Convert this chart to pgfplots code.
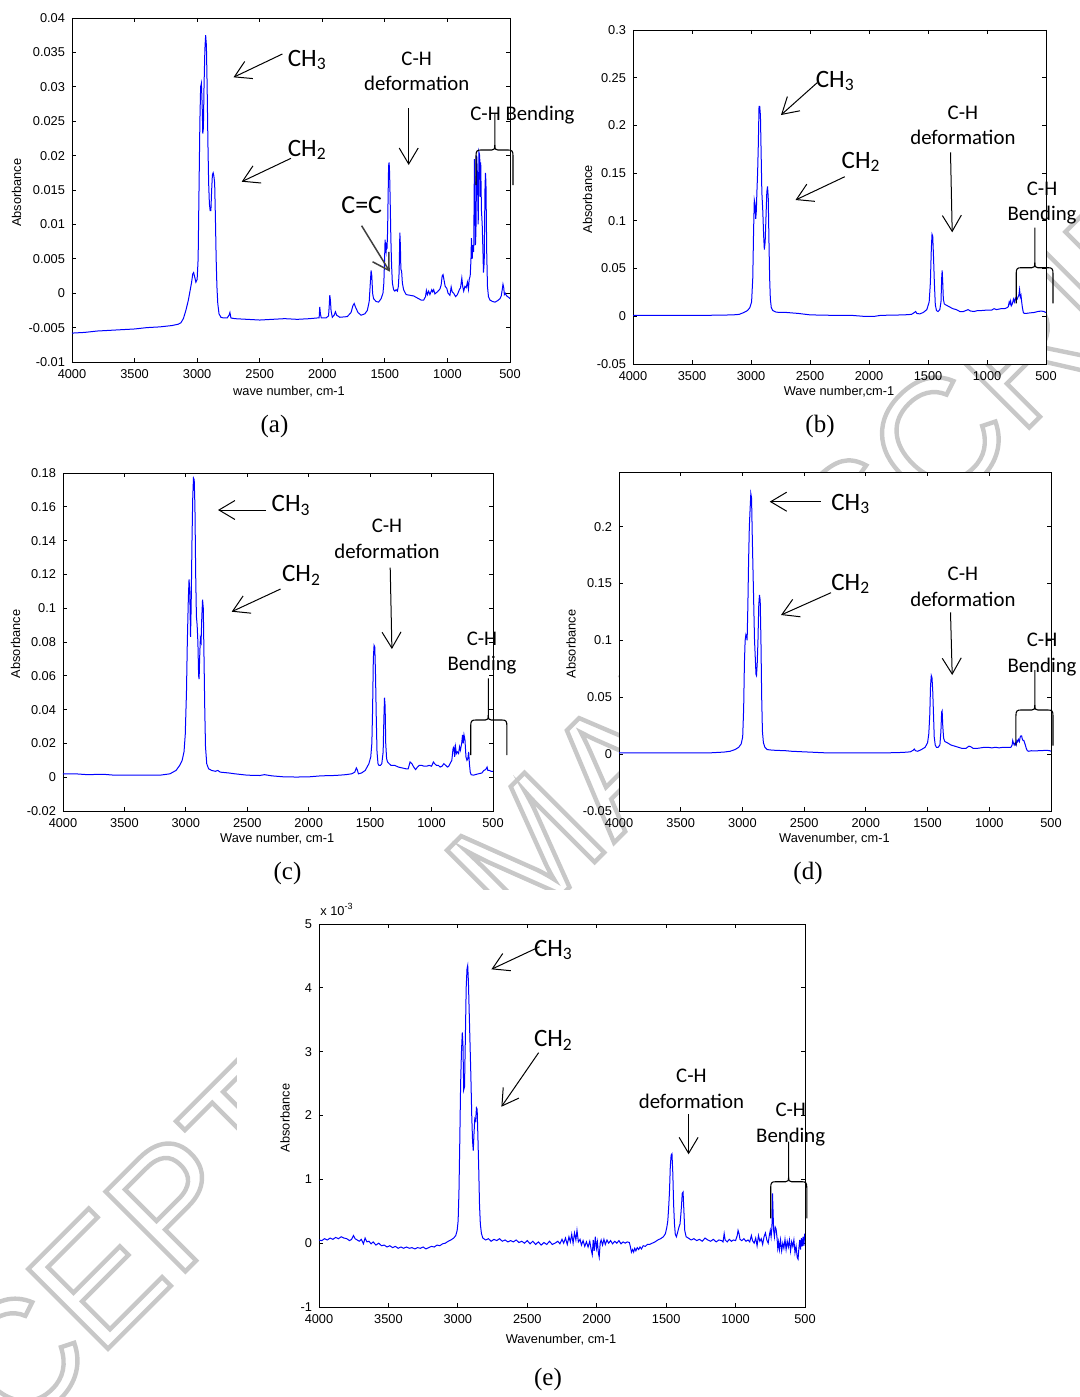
\documentclass[border=0pt]{standalone}
\usepackage{pgfplots}
\pgfplotsset{compat=1.18}
\usepackage{fontspec}
\setmainfont{Liberation Sans}
\newfontfamily\calfont{Carlito}
\newfontfamily\serfont{Liberation Serif}
\usetikzlibrary{arrows.meta}
\definecolor{mblue}{RGB}{0,0,255}
\definecolor{wmgray}{RGB}{200,200,200}
\newcommand{\tk}{\fontsize{6.4}{7.5}\selectfont}
\newcommand{\annbig}{\calfont\fontsize{12.5}{14}\selectfont}
\newcommand{\annmid}{\calfont\fontsize{10.4}{12}\selectfont}
\newcommand{\capf}{\serfont\fontsize{12.5}{14}\selectfont}
\pgfplotsset{ftir/.style={scale only axis, anchor=north west, x dir=reverse,
  xmin=500, xmax=4000,
  xtick={500,1000,1500,2000,2500,3000,3500,4000},
  xticklabels={500,1000,1500,2000,2500,3000,3500,4000},
  tick align=inside, major tick length=2.2pt,
  ticklabel style={font=\tk},
  axis line style={line width=0.4pt},
  axis background/.style={fill=white},
  every tick/.style={black, line width=0.4pt},
  scaled y ticks=false, clip=true}}
\tikzset{ann/.style={-{Straight Barb[length=8pt,width=9.5pt]}, line width=0.5pt},
  cc/.style={-{Straight Barb[length=8pt,width=9.5pt]}, line width=0.75pt, black!75}}
\newcommand{\cbrace}[6]{%
\draw[line width=0.55pt] ({#1},{#4}) -- ({#1},{#3+6}) .. controls ({#1},{#3+1}) and ({#1+1},{#3}) .. ({#1+5},{#3}) -- ({#5-3},{#3}) .. controls ({#5-0.5},{#3}) and ({#5},{#3-1}) .. ({#5},{#3-5}) -- ({#5},{#6});
\draw[line width=0.55pt] ({#2},{#4}) -- ({#2},{#3+6}) .. controls ({#2},{#3+1}) and ({#2-1},{#3}) .. ({#2-5},{#3}) -- ({#5+3},{#3}) .. controls ({#5+0.5},{#3}) and ({#5},{#3-1}) .. ({#5},{#3-5});}
\begin{document}
\begin{tikzpicture}
\useasboundingbox (0,0) rectangle (540pt,-698.5pt);
% watermark (drawn first, hidden by the axes boxes and the panel (e) area)
\begin{scope}[x=0.5pt,y=-0.5pt]
\node[rotate=45, text=wmgray, inner sep=0, font=\fontsize{82}{84}\selectfont] at (529,848)
  {\special{pdf:literal direct 1 Tr 2.2 w}ACCEPTED MANUSCRIPT\special{pdf:literal direct 0 Tr}};
\fill[white] (237,890) rectangle (1080,1397);
\end{scope}
% ---------------- (a)
\begin{axis}[ftir, at={(36pt,-9pt)}, width=219pt, height=172pt,
  ymin=-0.01, ymax=0.04,
  ytick={-0.01,-0.005,0,0.005,0.01,0.015,0.02,0.025,0.03,0.035,0.04},
  yticklabels={-0.01,-0.005,0,0.005,0.01,0.015,0.02,0.025,0.03,0.035,0.04}]
\addplot[mblue, line width=0.5pt] coordinates {
(4000,-0.0058) (3900,-0.0057) (3800,-0.0055) (3700,-0.0054) (3600,-0.0053) (3500,-0.0052) (3400,-0.0050) (3300,-0.0049) (3200,-0.0047) (3150,-0.0045) (3130,-0.0043) (3110,-0.0037) (3090,-0.0025) (3070,-0.0010) (3055,0.0005) (3045,0.0015) (3035,0.0028) (3028,0.0030) (3020,0.0024) (3010,0.0016) (3000,0.0020) (2992,0.0050) (2985,0.0150) (2978,0.0250) (2972,0.0300) (2966,0.0305) (2960,0.0275) (2955,0.0232) (2950,0.0240) (2945,0.0300) (2938,0.0355) (2932,0.0375) (2926,0.0360) (2920,0.0300) (2914,0.0220) (2908,0.0160) (2902,0.0130) (2896,0.0120) (2890,0.0120) (2884,0.0150) (2878,0.0172) (2872,0.0175) (2866,0.0170) (2860,0.0160) (2854,0.0110) (2848,0.0050) (2842,0.0010) (2835,-0.0015) (2825,-0.0030) (2810,-0.0035) (2790,-0.0036) (2760,-0.0036) (2745,-0.0032) (2738,-0.0028) (2730,-0.0036) (2700,-0.0037) (2600,-0.0038) (2500,-0.0039) (2400,-0.0038) (2300,-0.0037) (2200,-0.0038) (2100,-0.0037) (2040,-0.0036) (2025,-0.0036) (2020,-0.0020) (2015,-0.0030) (2008,-0.0036) (1970,-0.0036) (1950,-0.0033) (1945,-0.0020) (1940,-0.0003) (1935,-0.0010) (1930,-0.0025) (1920,-0.0035) (1905,-0.0032) (1895,-0.0027) (1885,-0.0032) (1860,-0.0035) (1800,-0.0034) (1770,-0.0028) (1755,-0.0018) (1745,-0.0015) (1735,-0.0020) (1715,-0.0028) (1690,-0.0032) (1660,-0.0030) (1640,-0.0025) (1625,-0.0012) (1615,0.0018) (1610,0.0033) (1604,0.0025) (1598,0.0000) (1590,-0.0008) (1570,-0.0012) (1550,-0.0013) (1530,-0.0008) (1515,0.0000) (1508,0.0015) (1502,0.0050) (1498,0.0078) (1494,0.0065) (1490,0.0060) (1486,0.0070) (1482,0.0068) (1478,0.0090) (1474,0.0140) (1470,0.0185) (1466,0.0190) (1462,0.0175) (1458,0.0140) (1452,0.0080) (1446,0.0040) (1440,0.0015) (1430,0.0005) (1420,0.0003) (1410,0.0005) (1400,0.0003) (1392,0.0010) (1386,0.0030) (1380,0.0088) (1376,0.0070) (1372,0.0035) (1366,0.0032) (1360,0.0015) (1350,0.0005) (1330,-0.0002) (1300,-0.0003) (1270,-0.0004) (1240,-0.0007) (1210,-0.0010) (1190,-0.0010) (1175,-0.0005) (1168,0.0004) (1160,-0.0002) (1150,0.0003) (1140,-0.0002) (1125,0.0005) (1118,0.0002) (1110,0.0005) (1100,-0.0001) (1080,0.0002) (1060,0.0006) (1050,0.0012) (1042,0.0025) (1035,0.0027) (1028,0.0020) (1018,0.0010) (1005,0.0007) (995,0.0000) (980,-0.0003) (970,0.0009) (962,0.0002) (950,0.0000) (935,-0.0005) (920,-0.0002) (905,0.0005) (895,0.0008) (885,0.0022) (878,0.0010) (870,0.0003) (860,0.0010) (850,0.0008) (840,0.0016) (832,0.0006) (826,0.0020) (818,0.0025) (812,0.0048) (808,0.0080) (802,0.0050) (796,0.0070) (790,0.0060) (784,0.0195) (780,0.0140) (776,0.0070) (772,0.0090) (766,0.0200) (760,0.0170) (754,0.0100) (748,0.0205) (742,0.0200) (738,0.0140) (734,0.0190) (728,0.0120) (722,0.0100) (716,0.0060) (712,0.0030) (706,0.0045) (700,0.0150) (696,0.0175) (692,0.0160) (686,0.0060) (680,0.0010) (672,-0.0005) (660,-0.0010) (640,-0.0012) (620,-0.0013) (600,-0.0011) (580,-0.0008) (570,-0.0004) (562,0.0005) (556,0.0013) (550,0.0008) (545,-0.0002) (538,0.0000) (530,-0.0003) (520,-0.0005) (510,-0.0006) (500,-0.0008)};
\end{axis}
% ---------------- (b)
\begin{axis}[ftir, at={(316.5pt,-15pt)}, width=206.5pt, height=167pt,
  ymin=-0.05, ymax=0.3,
  ytick={-0.05,0,0.05,0.1,0.15,0.2,0.25,0.3},
  yticklabels={-0.05,0,0.05,0.1,0.15,0.2,0.25,0.3}]
\addplot[mblue, line width=0.5pt] coordinates {
(4000,0.0010) (3800,0.0010) (3600,0.0010) (3400,0.0010) (3250,0.0012) (3150,0.0015) (3100,0.0020) (3060,0.0040) (3030,0.0060) (3010,0.0090) (2995,0.0150) (2985,0.0400) (2978,0.0900) (2972,0.1220) (2966,0.1180) (2960,0.1020) (2955,0.1100) (2950,0.1300) (2944,0.1500) (2938,0.1800) (2932,0.2200) (2926,0.2200) (2920,0.2100) (2914,0.1700) (2908,0.1300) (2900,0.1100) (2893,0.0850) (2887,0.0700) (2880,0.0780) (2874,0.1000) (2866,0.1300) (2860,0.1360) (2854,0.1250) (2848,0.0800) (2842,0.0400) (2836,0.0180) (2828,0.0090) (2815,0.0060) (2790,0.0045) (2760,0.0040) (2700,0.0040) (2600,0.0030) (2500,0.0015) (2400,0.0012) (2300,0.0010) (2150,0.0010) (2050,0.0000) (1950,0.0000) (1900,0.0010) (1800,0.0012) (1700,0.0015) (1640,0.0020) (1615,0.0040) (1605,0.0050) (1595,0.0030) (1570,0.0025) (1540,0.0040) (1510,0.0070) (1490,0.0150) (1480,0.0350) (1472,0.0700) (1466,0.0860) (1460,0.0840) (1454,0.0650) (1446,0.0350) (1438,0.0120) (1428,0.0060) (1415,0.0050) (1400,0.0070) (1390,0.0150) (1384,0.0400) (1380,0.0480) (1375,0.0350) (1370,0.0180) (1362,0.0130) (1350,0.0120) (1320,0.0100) (1290,0.0080) (1260,0.0070) (1230,0.0050) (1200,0.0050) (1180,0.0060) (1160,0.0070) (1140,0.0055) (1110,0.0050) (1080,0.0060) (1050,0.0060) (1000,0.0065) (960,0.0065) (940,0.0080) (920,0.0070) (880,0.0080) (850,0.0080) (830,0.0090) (820,0.0100) (812,0.0150) (806,0.0130) (800,0.0160) (794,0.0110) (785,0.0130) (776,0.0180) (768,0.0150) (760,0.0190) (752,0.0170) (744,0.0180) (738,0.0200) (730,0.0220) (724,0.0280) (718,0.0200) (712,0.0220) (706,0.0150) (700,0.0090) (692,0.0040) (685,0.0030) (670,0.0030) (640,0.0035) (600,0.0040) (570,0.0050) (540,0.0055) (520,0.0050) (500,0.0040)};
\end{axis}
% ---------------- (c)
\begin{axis}[ftir, at={(31.5pt,-236.5pt)}, width=215pt, height=169pt,
  ymin=-0.02, ymax=0.18,
  ytick={-0.02,0,0.02,0.04,0.06,0.08,0.1,0.12,0.14,0.16,0.18},
  yticklabels={-0.02,0,0.02,0.04,0.06,0.08,0.1,0.12,0.14,0.16,0.18}]
\addplot[mblue, line width=0.5pt] coordinates {
(4000,0.0020) (3900,0.0020) (3800,0.0015) (3700,0.0017) (3650,0.0016) (3600,0.0013) (3500,0.0012) (3400,0.0012) (3300,0.0012) (3200,0.0013) (3130,0.0020) (3080,0.0040) (3050,0.0070) (3030,0.0100) (3015,0.0150) (3005,0.0250) (2995,0.0500) (2988,0.0800) (2980,0.1050) (2974,0.1170) (2968,0.1100) (2962,0.0830) (2957,0.1000) (2950,0.1400) (2944,0.1650) (2938,0.1770) (2932,0.1760) (2926,0.1600) (2920,0.1200) (2914,0.0950) (2908,0.0900) (2902,0.0800) (2896,0.0600) (2892,0.0580) (2888,0.0700) (2882,0.0820) (2876,0.0800) (2870,0.0950) (2864,0.1050) (2858,0.1000) (2852,0.0700) (2846,0.0400) (2840,0.0180) (2830,0.0080) (2815,0.0050) (2790,0.0040) (2760,0.0035) (2740,0.0040) (2720,0.0030) (2650,0.0025) (2600,0.0020) (2500,0.0012) (2400,0.0010) (2360,0.0015) (2300,0.0008) (2200,0.0002) (2100,0.0001) (2000,0.0002) (1950,0.0005) (1900,0.0008) (1800,0.0010) (1750,0.0012) (1700,0.0015) (1650,0.0020) (1625,0.0030) (1612,0.0055) (1605,0.0045) (1595,0.0020) (1570,0.0025) (1540,0.0040) (1510,0.0080) (1495,0.0120) (1486,0.0200) (1480,0.0400) (1474,0.0700) (1468,0.0780) (1462,0.0770) (1456,0.0600) (1450,0.0350) (1444,0.0150) (1436,0.0080) (1428,0.0070) (1416,0.0070) (1405,0.0080) (1394,0.0150) (1388,0.0350) (1383,0.0470) (1378,0.0420) (1373,0.0200) (1366,0.0110) (1358,0.0090) (1345,0.0080) (1330,0.0070) (1300,0.0070) (1270,0.0060) (1240,0.0055) (1210,0.0050) (1190,0.0050) (1175,0.0090) (1160,0.0080) (1145,0.0060) (1130,0.0045) (1115,0.0060) (1100,0.0070) (1080,0.0070) (1060,0.0065) (1040,0.0065) (1020,0.0070) (1000,0.0065) (985,0.0090) (975,0.0080) (960,0.0070) (945,0.0070) (930,0.0060) (915,0.0065) (900,0.0080) (885,0.0070) (870,0.0060) (860,0.0065) (850,0.0080) (835,0.0100) (825,0.0170) (818,0.0180) (812,0.0120) (805,0.0180) (798,0.0140) (790,0.0150) (780,0.0140) (772,0.0180) (765,0.0160) (755,0.0200) (748,0.0250) (742,0.0200) (736,0.0250) (728,0.0220) (720,0.0120) (712,0.0100) (705,0.0110) (698,0.0150) (692,0.0080) (685,0.0030) (678,0.0015) (660,0.0012) (620,0.0020) (590,0.0025) (575,0.0040) (560,0.0045) (548,0.0060) (542,0.0040) (530,0.0040) (515,0.0035) (500,0.0035)};
\end{axis}
% ---------------- (d)
\begin{axis}[ftir, at={(309.5pt,-236pt)}, width=216pt, height=169.5pt,
  ymin=-0.05, ymax=0.248,
  ytick={-0.05,0,0.05,0.1,0.15,0.2},
  yticklabels={-0.05,0,0.05,0.1,0.15,0.2}]
\addplot[mblue, line width=0.5pt] coordinates {
(4000,0.0010) (3900,0.0010) (3800,0.0010) (3600,0.0010) (3400,0.0010) (3250,0.0012) (3150,0.0018) (3100,0.0025) (3060,0.0040) (3030,0.0060) (3010,0.0090) (2998,0.0150) (2990,0.0400) (2984,0.0800) (2978,0.1000) (2972,0.1050) (2966,0.1030) (2962,0.1000) (2956,0.1300) (2950,0.1700) (2944,0.2000) (2938,0.2150) (2932,0.2290) (2926,0.2250) (2920,0.1900) (2914,0.1600) (2908,0.1300) (2902,0.1000) (2896,0.0850) (2890,0.0700) (2886,0.0690) (2880,0.0800) (2874,0.1000) (2868,0.1300) (2862,0.1400) (2856,0.1350) (2850,0.1000) (2844,0.0500) (2838,0.0200) (2830,0.0100) (2818,0.0060) (2800,0.0040) (2760,0.0035) (2700,0.0032) (2650,0.0030) (2600,0.0025) (2500,0.0020) (2400,0.0015) (2300,0.0010) (2200,0.0010) (2100,0.0010) (2000,0.0010) (1940,0.0012) (1900,0.0012) (1800,0.0012) (1700,0.0015) (1640,0.0020) (1615,0.0035) (1608,0.0045) (1598,0.0030) (1580,0.0025) (1550,0.0040) (1520,0.0060) (1500,0.0100) (1490,0.0180) (1482,0.0350) (1476,0.0600) (1470,0.0690) (1464,0.0670) (1458,0.0550) (1452,0.0350) (1446,0.0150) (1438,0.0080) (1428,0.0060) (1415,0.0060) (1400,0.0080) (1392,0.0200) (1386,0.0370) (1382,0.0380) (1377,0.0250) (1370,0.0140) (1360,0.0110) (1340,0.0100) (1310,0.0080) (1280,0.0070) (1250,0.0060) (1220,0.0050) (1190,0.0050) (1165,0.0070) (1150,0.0065) (1130,0.0050) (1100,0.0050) (1070,0.0055) (1040,0.0060) (1010,0.0060) (980,0.0055) (950,0.0060) (920,0.0055) (890,0.0060) (860,0.0060) (840,0.0060) (825,0.0060) (815,0.0080) (810,0.0120) (805,0.0100) (798,0.0080) (790,0.0100) (782,0.0080) (776,0.0120) (770,0.0110) (764,0.0130) (756,0.0110) (750,0.0150) (744,0.0160) (738,0.0160) (732,0.0130) (726,0.0120) (720,0.0120) (714,0.0100) (708,0.0080) (700,0.0050) (692,0.0030) (680,0.0025) (660,0.0030) (640,0.0028) (600,0.0030) (560,0.0032) (530,0.0033) (510,0.0030) (500,0.0025)};
\end{axis}
% ---------------- (e)
\begin{axis}[ftir, at={(159.5pt,-462pt)}, width=243pt, height=191.5pt,
  ymin=-1, ymax=5,
  ytick={-1,0,1,2,3,4,5},
  yticklabels={-1,0,1,2,3,4,5}]
\addplot[mblue, line width=0.5pt] coordinates {
(4000,0.05)(3980,0.04)(3960,0.07)(3940,0.05)(3920,0.08)(3900,0.06)(3880,0.09)(3860,0.07)(3840,0.10)(3820,0.08)(3800,0.07)(3780,0.04)(3765,0.06)(3752,0.12)(3740,0.07)(3725,0.05)(3710,0.03)(3695,0.06)(3680,-0.01)(3668,0.08)(3655,0.02)(3640,0.03)(3625,-0.01)(3610,0.02)(3590,-0.03)(3570,0.0)(3550,-0.04)(3530,-0.03)(3510,-0.06)(3490,-0.04)(3470,-0.07)(3450,-0.05)(3430,-0.08)(3410,-0.06)(3390,-0.08)(3370,-0.06)(3350,-0.08)(3330,-0.07)(3310,-0.09)(3290,-0.07)(3270,-0.08)(3250,-0.06)(3230,-0.09)(3210,-0.07)(3190,-0.05)(3170,-0.06)(3150,-0.03)(3130,-0.04)(3110,-0.01)(3090,0.0)(3070,0.03)(3050,0.05)(3030,0.08)(3015,0.12)(3005,0.2)(2998,0.35)(2992,0.8)(2986,1.6)(2980,2.5)(2974,3.0)(2968,3.3)(2963,3.1)(2958,2.4)(2952,2.45)(2946,3.2)(2940,4.0)(2934,4.3)(2929,4.35)(2924,4.1)(2918,3.6)(2912,3.1)(2906,2.6)(2900,2.0)(2894,1.6)(2889,1.45)(2884,1.7)(2878,1.95)(2872,1.92)(2866,2.12)(2861,2.1)(2856,1.7)(2850,1.2)(2844,0.6)(2838,0.3)(2830,0.15)(2820,0.08)(2800,0.05)(2780,0.07)(2760,0.03)(2740,0.06)(2720,0.04)(2700,0.07)(2680,0.03)(2660,0.05)(2640,0.02)(2620,0.04)(2600,0.02)(2580,0.05)(2560,0.01)(2540,0.03)(2520,0.0)(2500,0.04)(2480,-0.01)(2460,0.03)(2440,-0.02)(2420,0.02)(2400,-0.03)(2380,0.01)(2360,-0.02)(2340,0.03)(2320,-0.02)(2300,0.0)(2280,0.03)(2265,-0.01)(2250,0.06)(2238,0.0)(2225,0.08)(2212,-0.02)(2200,0.10)(2190,0.02)(2180,0.14)(2170,0.0)(2160,0.16)(2150,0.05)(2142,0.20)(2132,0.02)(2120,0.06)(2110,-0.03)(2098,0.04)(2086,-0.05)(2074,0.02)(2062,-0.06)(2050,0.03)(2040,-0.10)(2032,-0.18)(2025,0.05)(2018,-0.12)(2010,0.10)(2002,-0.08)(1995,0.02)(1988,-0.15)(1982,-0.22)(1975,0.0)(1968,0.05)(1958,-0.03)(1948,0.06)(1938,-0.02)(1926,0.05)(1914,0.0)(1900,0.04)(1886,-0.01)(1870,0.03)(1855,0.0)(1840,0.04)(1825,-0.01)(1810,0.02)(1795,0.0)(1780,0.02)(1765,0.01)(1758,-0.05)(1750,-0.14)(1742,-0.10)(1734,-0.14)(1726,-0.08)(1718,-0.12)(1708,-0.07)(1698,-0.10)(1688,-0.06)(1678,-0.09)(1665,-0.04)(1650,-0.05)(1635,-0.02)(1620,-0.02)(1600,0.0)(1580,0.02)(1560,0.05)(1540,0.07)(1520,0.10)(1505,0.15)(1495,0.25)(1488,0.35)(1482,0.55)(1476,0.8)(1470,1.2)(1464,1.38)(1458,1.4)(1452,1.1)(1446,0.6)(1440,0.3)(1434,0.14)(1426,0.10)(1416,0.18)(1408,0.25)(1400,0.3)(1394,0.45)(1389,0.6)(1384,0.78)(1378,0.8)(1372,0.5)(1366,0.2)(1356,0.10)(1340,0.08)(1320,0.05)(1300,0.07)(1280,0.04)(1260,0.06)(1240,0.03)(1220,0.08)(1200,0.05)(1180,0.03)(1160,0.06)(1140,0.02)(1120,0.05)(1100,0.04)(1090,0.02)(1082,0.15)(1075,0.05)(1060,0.02)(1045,0.06)(1030,0.03)(1015,0.05)(1000,0.04)(988,0.12)(982,0.20)(975,0.15)(968,0.06)(955,0.04)(940,0.07)(925,0.03)(910,0.05)(898,0.02)(886,0.12)(878,0.04)(866,0.0)(855,0.08)(845,-0.04)(835,0.12)(825,0.03)(815,0.07)(805,-0.02)(795,0.1)(785,0.16)(775,0.05)(765,0.0)(757,0.12)(750,0.20)(744,0.10)(738,0.25)(734,0.78)(730,0.5)(726,0.2)(720,0.1)(714,0.25)(708,0.22)(702,0.1)(696,-0.08)(690,0.02)(684,-0.1)(676,0.05)(668,-0.12)(660,0.0)(652,-0.08)(644,0.06)(636,-0.1)(628,0.03)(620,-0.06)(612,0.05)(604,-0.12)(596,0.02)(588,-0.05)(580,0.05)(572,-0.15)(564,-0.05)(556,-0.22)(550,-0.25)(544,-0.08)(538,0.05)(532,-0.1)(526,0.08)(520,-0.05)(514,0.1)(508,-0.04)(502,0.15)(500,0.1)};
\end{axis}
% ---------------- annotations (pixel coordinates)
\begin{scope}[x=0.5pt,y=-0.5pt]
% (a)
\node[anchor=base west,inner sep=0] at (287.5,66) {\annbig CH\textsubscript{3}};
\draw[ann] (282.4,54) -- (233.5,77.3);
\node[anchor=base west,inner sep=0] at (287.5,156) {\annbig CH\textsubscript{2}};
\draw[ann] (291,158.3) -- (241.7,181.7);
\node[anchor=base,inner sep=0] at (416.7,65) {\annmid C-H};
\node[anchor=base,inner sep=0] at (416.7,90.7) {\annmid deformation};
\draw[ann] (408.7,108.3) -- (408.7,165);
\node[anchor=base west,inner sep=0] at (341,213.3) {\calfont\fontsize{13}{15}\selectfont C=C};
\draw[cc] (361.6,225.7) -- (389.8,271.7);
\node[anchor=base west,inner sep=0] at (470,120) {\annmid C-H Bending};
\cbrace{476}{513}{150}{185}{494.8}{113.3}
\node[font=\tk] at (289,391.7) {wave number, cm-1};
\node[font=\tk,rotate=90] at (16.5,192.7) {Absorbance};
\node at (274.5,426.7) {\capf (a)};
% (b)
\node[anchor=base west,inner sep=0] at (815.5,87.3) {\annbig CH\textsubscript{3}};
\draw[ann] (817.2,82.7) -- (781,115);
\node[anchor=base west,inner sep=0] at (841.3,168.3) {\annbig CH\textsubscript{2}};
\draw[ann] (844.8,176.7) -- (795.5,200);
\node[anchor=base,inner sep=0] at (962.9,119) {\annmid C-H};
\node[anchor=base,inner sep=0] at (962.9,144.3) {\annmid deformation};
\draw[ann] (950.5,152.3) -- (952.2,232.3);
\node[anchor=base,inner sep=0] at (1042,195) {\annmid C-H};
\node[anchor=base,inner sep=0] at (1042,220.7) {\annmid Bending};
\cbrace{1016.2}{1053}{267.7}{303.3}{1034.8}{227.7}
\node[font=\tk] at (839,391.7) {Wave number,cm-1};
\node[font=\tk,rotate=90] at (587.5,199.3) {Absorbance};
\node at (820,426.7) {\capf (b)};
% (c)
\node[anchor=base west,inner sep=0] at (271.3,511.7) {\annbig CH\textsubscript{3}};
\draw[ann] (266.2,510) -- (218,510);
\node[anchor=base west,inner sep=0] at (281.7,581.7) {\annbig CH\textsubscript{2}};
\draw[ann] (280.6,589) -- (231.7,611.7);
\node[anchor=base,inner sep=0] at (387,532.7) {\annmid C-H};
\node[anchor=base,inner sep=0] at (387,558.3) {\annmid deformation};
\draw[ann] (390.2,567.7) -- (391.9,649);
\node[anchor=base,inner sep=0] at (482,645) {\annmid C-H};
\node[anchor=base,inner sep=0] at (482,670.7) {\annmid Bending};
\cbrace{470.7}{506.9}{720}{755}{488.3}{678.3}
\node[font=\tk] at (277.2,839) {Wave number, cm-1};
\node[font=\tk,rotate=90] at (15.5,644) {Absorbance};
\node at (287.5,873.3) {\capf (c)};
% (d)
\node[anchor=base west,inner sep=0] at (831,510) {\annbig CH\textsubscript{3}};
\draw[ann] (820.6,501.7) -- (769.7,501.7);
\node[anchor=base west,inner sep=0] at (831,590) {\annbig CH\textsubscript{2}};
\draw[ann] (831,592.7) -- (781,615);
\node[anchor=base,inner sep=0] at (962.9,580.7) {\annmid C-H};
\node[anchor=base,inner sep=0] at (962.9,606) {\annmid deformation};
\draw[ann] (950.5,612.3) -- (952.2,675);
\node[anchor=base,inner sep=0] at (1042,646.7) {\annmid C-H};
\node[anchor=base,inner sep=0] at (1042,672.3) {\annmid Bending};
\cbrace{1015.9}{1053}{710}{745.7}{1034.8}{670}
\node[font=\tk] at (834.4,839) {Wavenumber, cm-1};
\node[font=\tk,rotate=90] at (571,644) {Absorbance};
\node at (808,873.3) {\capf (d)};
% (e)
\node[anchor=base west,inner sep=0] at (533.6,956) {\annbig CH\textsubscript{3}};
\draw[ann] (539.6,946.7) -- (491.4,969.3);
\node[anchor=base west,inner sep=0] at (533.6,1046.7) {\annbig CH\textsubscript{2}};
\draw[ann] (538.6,1052.7) -- (501.4,1106.7);
\node[anchor=base,inner sep=0] at (691.4,1082.7) {\annmid C-H};
\node[anchor=base,inner sep=0] at (691.4,1108.3) {\annmid deformation};
\draw[ann] (688.6,1114) -- (688.6,1154.3);
\node[anchor=base,inner sep=0] at (790.7,1116.7) {\annmid C-H};
\node[anchor=base,inner sep=0] at (790.7,1142.7) {\annmid Bending};
\cbrace{770.7}{806.8}{1181.7}{1218.3}{788.6}{1141.7}
\node[anchor=base west,inner sep=0,font=\tk] at (320,915) {x 10\textsuperscript{-3}};
\node[font=\tk] at (561,1339.3) {Wavenumber, cm-1};
\node[font=\tk,rotate=90] at (285,1118) {Absorbance};
\node at (548,1379.3) {\capf (e)};
\end{scope}
\end{tikzpicture}
\end{document}
